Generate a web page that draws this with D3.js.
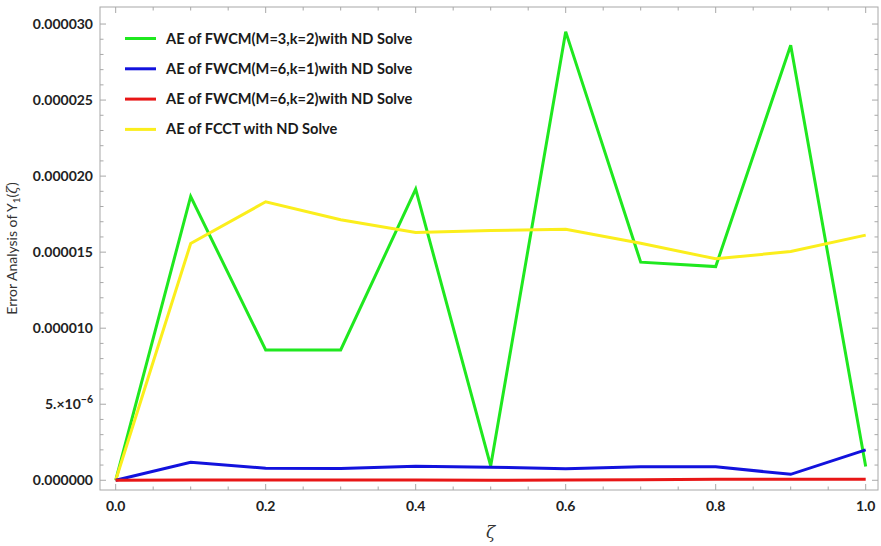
<!DOCTYPE html>
<html>
<head>
<meta charset="utf-8">
<script src="https://cdn.jsdelivr.net/npm/d3@7"></script>
<style>
  html, body { margin: 0; padding: 0; background: #fff; }
  svg { display: block; }
  .tick-label { font-family: Lato, "Open Sans", sans-serif; font-weight: 700; font-size: 14px; fill: #222; }
  .legend-label { font-family: Lato, "Open Sans", sans-serif; font-weight: 700; font-size: 14.6px; fill: #1a1a1a; }
</style>
</head>
<body>
<svg id="chart" width="881" height="546"></svg>
<script>
// ζ grid
const zeta = [0, 0.1, 0.2, 0.3, 0.4, 0.5, 0.6, 0.7, 0.8, 0.9, 1.0];

// Absolute errors (in units of 1e-6)
const aeFwcmM3k2 = [0, 18.66, 8.57, 8.57, 19.14, 0.94, 29.5, 14.34, 14.05, 28.6, 0.9];
const aeFwcmM6k1 = [0, 1.18, 0.79, 0.78, 0.92, 0.86, 0.76, 0.89, 0.89, 0.39, 2.0];
const aeFwcmM6k2 = [0, 0.02, 0.02, 0.02, 0.01, 0.0, 0.01, 0.04, 0.07, 0.07, 0.07];
const aeFcct     = [0, 15.57, 18.31, 17.13, 16.29, 16.42, 16.51, 15.59, 14.56, 15.04, 16.12];

const seriesNames = [
  "AE of FWCM(M=3,k=2)with ND Solve",
  "AE of FWCM(M=6,k=1)with ND Solve",
  "AE of FWCM(M=6,k=2)with ND Solve",
  "AE of FCCT with ND Solve"
];
const seriesColors = ["#1fe81f", "#1212dd", "#e81616", "#fbee1c"];

const xTicks = [0, 0.2, 0.4, 0.6, 0.8, 1.0];
const xTickLabels = ["0.0", "0.2", "0.4", "0.6", "0.8", "1.0"];
const yTicks = [0, 5, 10, 15, 20, 25, 30];
const yTickLabels = ["0.000000", "5.×10", "0.000010", "0.000015", "0.000020", "0.000025", "0.000030"];

const svg = d3.select("#chart");

// Frame box
const frame = { left: 100, right: 878, top: 7, bottom: 490 };

const x = d3.scaleLinear().domain([-0.0209, 1.0164]).range([frame.left, frame.right]);
const y = d3.scaleLinear().domain([-0.64, 31.12]).range([frame.bottom, frame.top]);

const frameColor = "#a8a8a8";

// Ticks (inward, frame style)
const xMinor = d3.range(0, 1.0001, 0.05);
const yMinor = d3.range(0, 31, 1);
const g = svg.append("g");

xMinor.forEach(v => {
  const major = xTicks.some(t => Math.abs(t - v) < 1e-6);
  const len = major ? 6 : 3.5;
  g.append("line").attr("x1", x(v)).attr("x2", x(v))
    .attr("y1", frame.bottom).attr("y2", frame.bottom - len)
    .attr("stroke", frameColor).attr("stroke-width", 1);
  g.append("line").attr("x1", x(v)).attr("x2", x(v))
    .attr("y1", frame.top).attr("y2", frame.top + len)
    .attr("stroke", frameColor).attr("stroke-width", 1);
});
yMinor.forEach(v => {
  const major = yTicks.includes(v);
  const len = major ? 6 : 3.5;
  g.append("line").attr("y1", y(v)).attr("y2", y(v))
    .attr("x1", frame.left).attr("x2", frame.left + len)
    .attr("stroke", frameColor).attr("stroke-width", 1);
  g.append("line").attr("y1", y(v)).attr("y2", y(v))
    .attr("x1", frame.right).attr("x2", frame.right - len)
    .attr("stroke", frameColor).attr("stroke-width", 1);
});

g.append("rect")
  .attr("x", frame.left).attr("y", frame.top)
  .attr("width", frame.right - frame.left).attr("height", frame.bottom - frame.top)
  .attr("fill", "none").attr("stroke", frameColor).attr("stroke-width", 1);

// Tick labels
xTicks.forEach((v, i) => {
  svg.append("text").attr("class", "tick-label")
    .attr("x", x(v)).attr("y", frame.bottom + 21)
    .attr("text-anchor", "middle").text(xTickLabels[i]);
});
yTicks.forEach((v, i) => {
  const t = svg.append("text").attr("class", "tick-label")
    .attr("x", frame.left - 7).attr("y", y(v) + 5)
    .attr("text-anchor", "end");
  t.text(yTickLabels[i]);
  if (v === 5) {
    t.append("tspan").attr("dy", -6).attr("font-size", "10.5px").text("\u22126");
  }
});

// Axis titles
svg.append("text")
  .attr("transform", `translate(17, ${(frame.top + frame.bottom) / 2}) rotate(-90)`)
  .attr("text-anchor", "middle")
  .attr("font-family", "Lato, 'Open Sans', sans-serif")
  .attr("font-size", "14px").attr("fill", "#333")
  .html('Error Analysis of Y<tspan font-size="10px" dy="3">1</tspan><tspan dy="-3">(</tspan><tspan font-family="DejaVu Serif" font-style="italic">ζ</tspan>)');

svg.append("text")
  .attr("x", x(0.5)).attr("y", 538)
  .attr("text-anchor", "middle")
  .attr("font-family", "DejaVu Serif, serif").attr("font-style", "italic")
  .attr("font-size", "17px").attr("fill", "#333")
  .text("ζ");

// Series lines
const allSeries = [aeFwcmM3k2, aeFwcmM6k1, aeFwcmM6k2, aeFcct];
const line = d3.line().x((d, i) => x(zeta[i])).y(d => y(d));
const drawOrder = [0, 3, 1, 2];
drawOrder.forEach(k => {
  svg.append("path")
    .datum(allSeries[k])
    .attr("d", line)
    .attr("fill", "none")
    .attr("stroke", seriesColors[k])
    .attr("stroke-width", 3)
    .attr("stroke-linejoin", "miter");
});

// Legend
const legend = svg.append("g");
seriesNames.forEach((name, i) => {
  const ly = 38.5 + i * 30.3;
  legend.append("line")
    .attr("x1", 125).attr("x2", 156).attr("y1", ly).attr("y2", ly)
    .attr("stroke", seriesColors[i]).attr("stroke-width", 3);
  legend.append("text").attr("class", "legend-label")
    .attr("x", 166).attr("y", ly + 5)
    .text(name);
});
</script>
</body>
</html>
